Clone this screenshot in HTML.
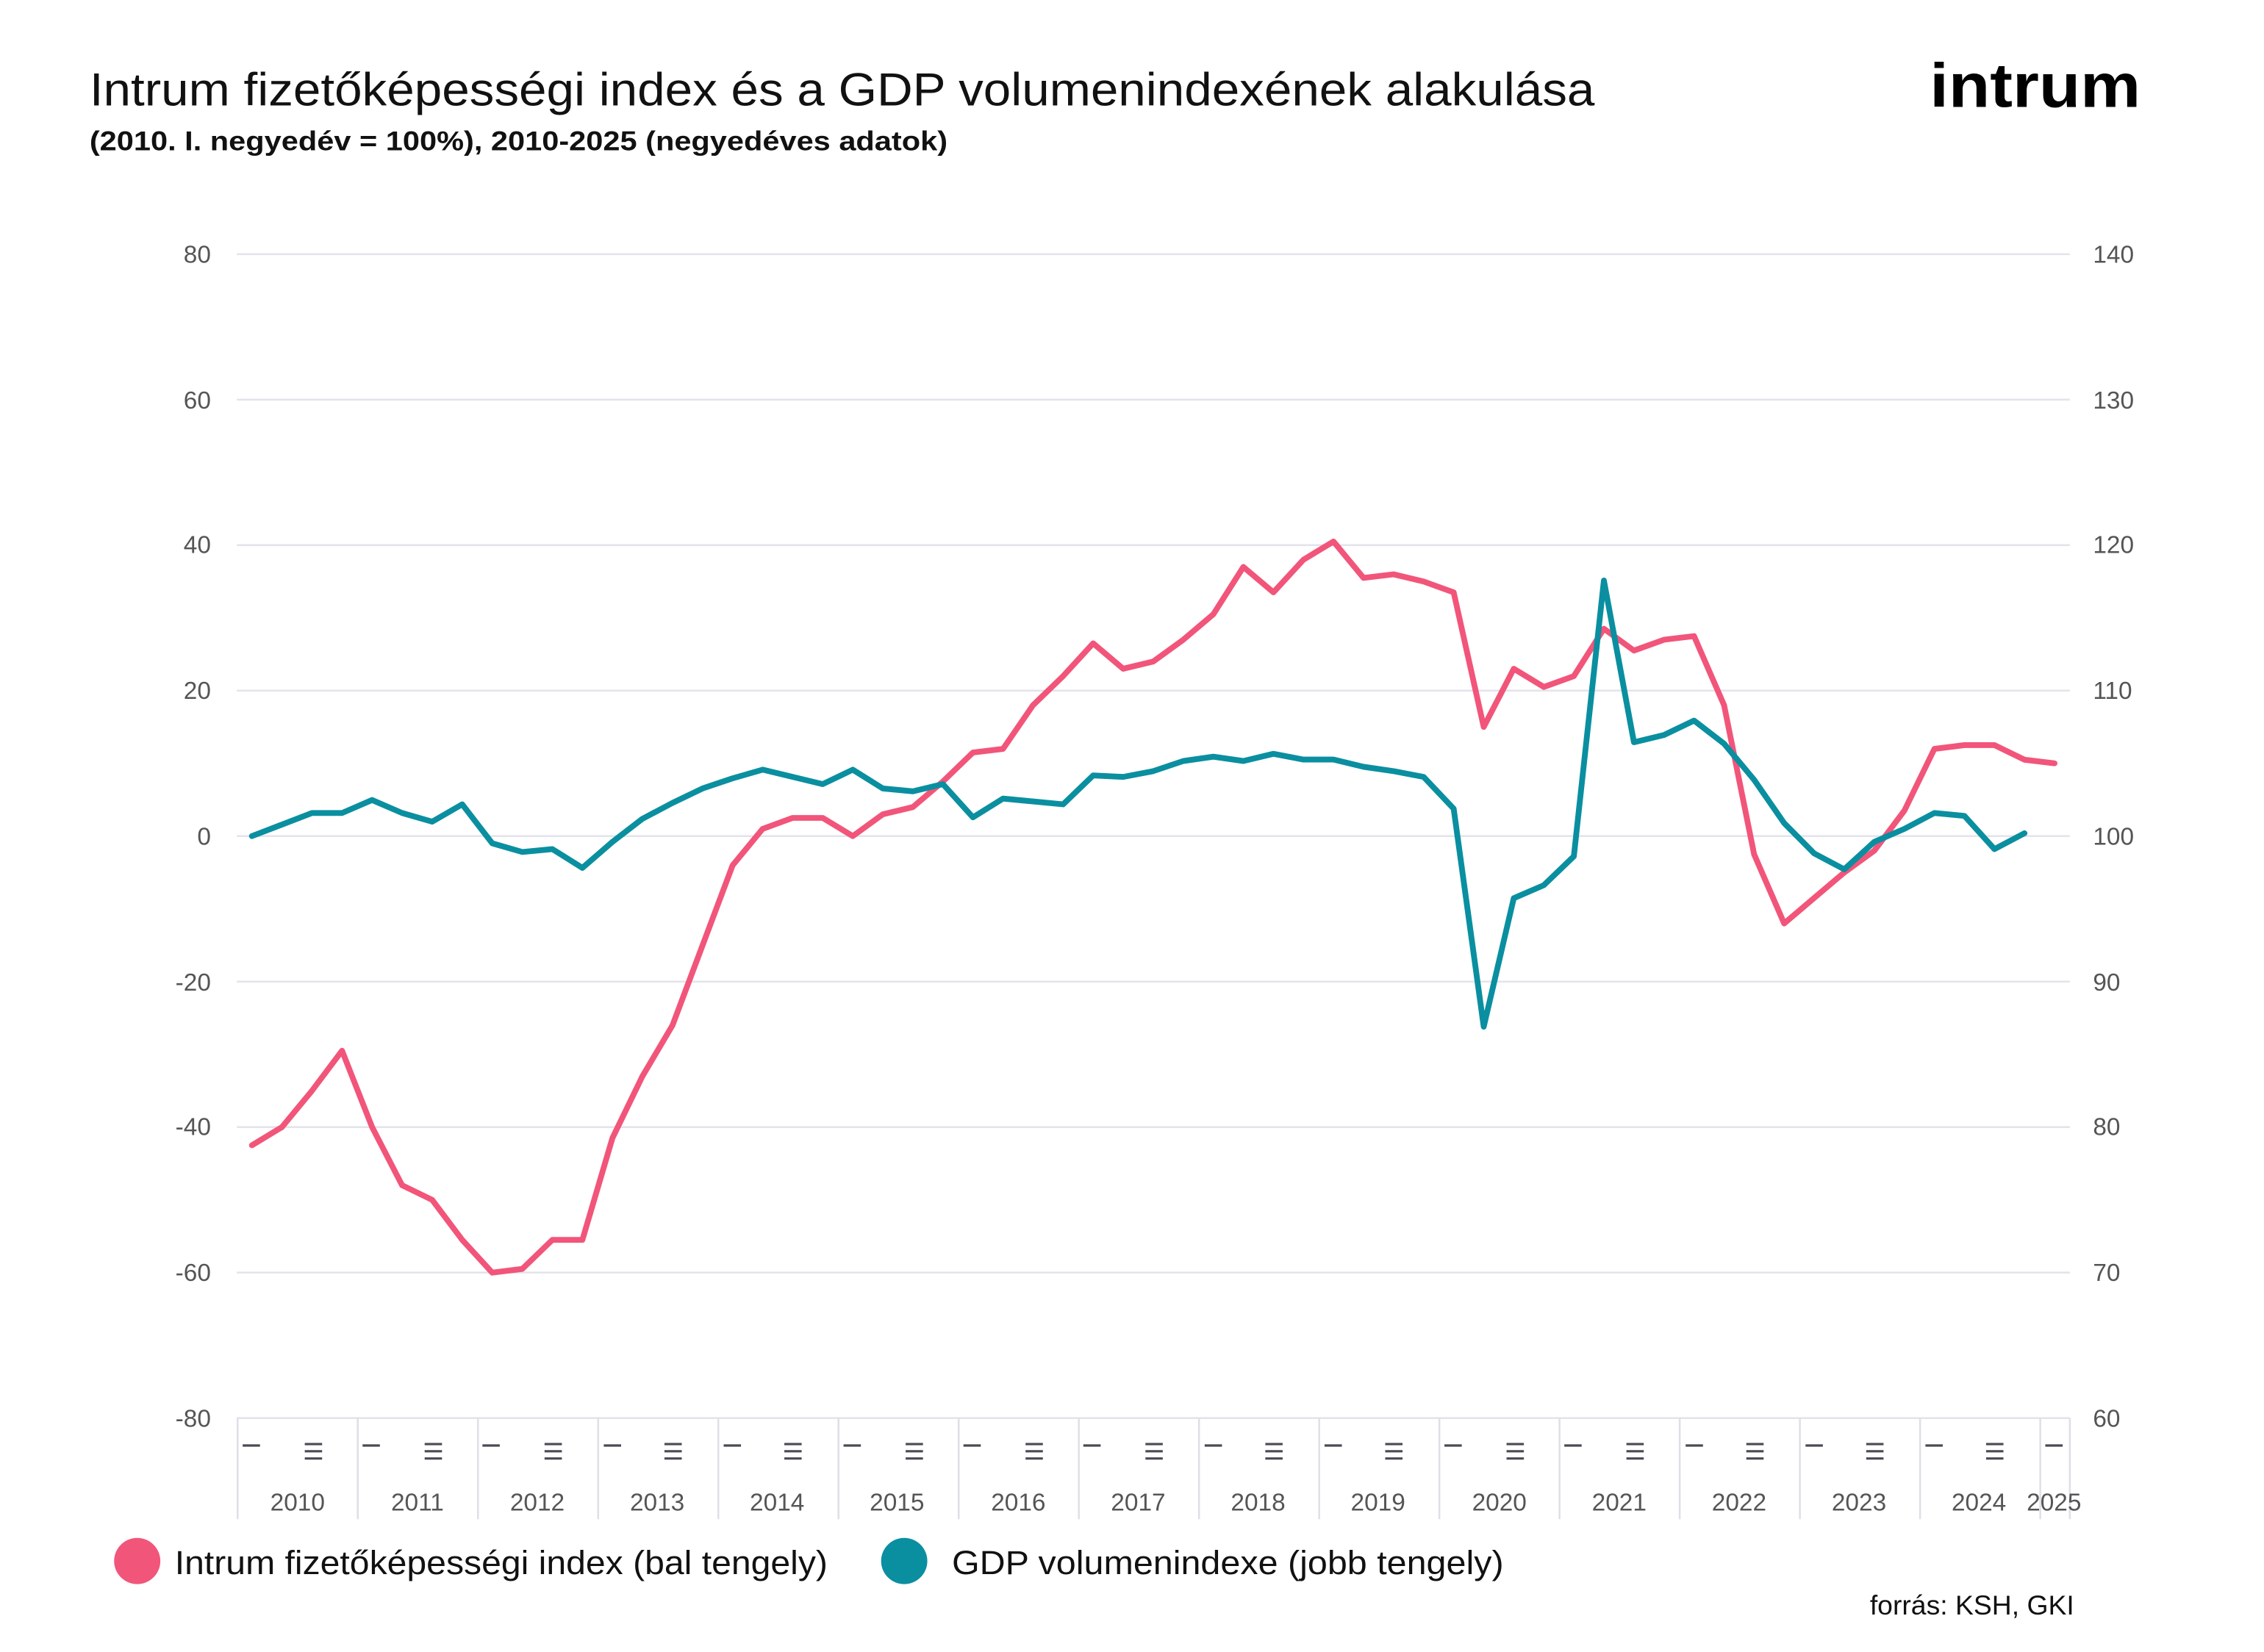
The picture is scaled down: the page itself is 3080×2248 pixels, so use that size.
<!DOCTYPE html>
<html><head><meta charset="utf-8"><style>
html,body{margin:0;padding:0;background:#fff;}
svg{display:block;}
</style></head><body>
<svg width="3080" height="2248" viewBox="0 0 1567.4 1144" preserveAspectRatio="none" xmlns="http://www.w3.org/2000/svg" font-family="Liberation Sans, sans-serif">
<rect width="1567.4" height="1144" fill="#fff"/>
<text x="62" y="73" font-size="32" fill="#111" textLength="1042" lengthAdjust="spacingAndGlyphs">Intrum fizetőképességi index és a GDP volumenindexének alakulása</text>
<text x="62" y="104" font-size="19" font-weight="bold" fill="#111" textLength="594" lengthAdjust="spacingAndGlyphs">(2010. I. negyedév = 100%),  2010-2025 (negyedéves adatok)</text>
<text x="1482" y="74" font-size="43" font-weight="bold" fill="#000" text-anchor="end" textLength="146" lengthAdjust="spacingAndGlyphs">intrum</text>
<g stroke="#e4e3ec" stroke-width="1.3">
<line x1="164" x2="1433" y1="176" y2="176"/><line x1="164" x2="1433" y1="276.75" y2="276.75"/>
<line x1="164" x2="1433" y1="377.5" y2="377.5"/><line x1="164" x2="1433" y1="478.25" y2="478.25"/>
<line x1="164" x2="1433" y1="579" y2="579"/><line x1="164" x2="1433" y1="679.75" y2="679.75"/>
<line x1="164" x2="1433" y1="780.5" y2="780.5"/><line x1="164" x2="1433" y1="881.25" y2="881.25"/>
<line x1="164" x2="1433" y1="982" y2="982"/>
</g>
<g font-size="17" fill="#555" text-anchor="end">
<text x="146" y="182">80</text><text x="146" y="283">60</text><text x="146" y="383">40</text><text x="146" y="484">20</text>
<text x="146" y="585">0</text><text x="146" y="686">-20</text><text x="146" y="786">-40</text><text x="146" y="887">-60</text><text x="146" y="988">-80</text>
</g>
<g font-size="17" fill="#555">
<text x="1449" y="182">140</text><text x="1449" y="283">130</text><text x="1449" y="383">120</text><text x="1449" y="484">110</text>
<text x="1449" y="585">100</text><text x="1449" y="686">90</text><text x="1449" y="786">80</text><text x="1449" y="887">70</text><text x="1449" y="988">60</text>
</g>
<g stroke="#e0dfe8" stroke-width="1.3">
<line x1="164.5" x2="164.5" y1="982" y2="1052"/><line x1="247.7" x2="247.7" y1="982" y2="1052"/><line x1="330.9" x2="330.9" y1="982" y2="1052"/>
<line x1="414.1" x2="414.1" y1="982" y2="1052"/><line x1="497.3" x2="497.3" y1="982" y2="1052"/><line x1="580.5" x2="580.5" y1="982" y2="1052"/>
<line x1="663.7" x2="663.7" y1="982" y2="1052"/><line x1="746.9" x2="746.9" y1="982" y2="1052"/><line x1="830.1" x2="830.1" y1="982" y2="1052"/>
<line x1="913.3" x2="913.3" y1="982" y2="1052"/><line x1="996.5" x2="996.5" y1="982" y2="1052"/><line x1="1079.7" x2="1079.7" y1="982" y2="1052"/>
<line x1="1162.9" x2="1162.9" y1="982" y2="1052"/><line x1="1246.1" x2="1246.1" y1="982" y2="1052"/><line x1="1329.3" x2="1329.3" y1="982" y2="1052"/>
<line x1="1412.5" x2="1412.5" y1="982" y2="1052"/><line x1="1433" x2="1433" y1="982" y2="1052"/>
</g>
<g stroke="#4a4a55" stroke-width="1.6" id="t">
<path d="M168 1001h12M211 1000h12M211 1005h12M211 1010h12"/>
<path d="M251 1001h12M294 1000h12M294 1005h12M294 1010h12"/>
<path d="M334 1001h12M377 1000h12M377 1005h12M377 1010h12"/>
<path d="M418 1001h12M460 1000h12M460 1005h12M460 1010h12"/>
<path d="M501 1001h12M543 1000h12M543 1005h12M543 1010h12"/>
<path d="M584 1001h12M627 1000h12M627 1005h12M627 1010h12"/>
<path d="M667 1001h12M710 1000h12M710 1005h12M710 1010h12"/>
<path d="M750 1001h12M793 1000h12M793 1005h12M793 1010h12"/>
<path d="M834 1001h12M876 1000h12M876 1005h12M876 1010h12"/>
<path d="M917 1001h12M959 1000h12M959 1005h12M959 1010h12"/>
<path d="M1000 1001h12M1043 1000h12M1043 1005h12M1043 1010h12"/>
<path d="M1083 1001h12M1126 1000h12M1126 1005h12M1126 1010h12"/>
<path d="M1167 1001h12M1209 1000h12M1209 1005h12M1209 1010h12"/>
<path d="M1250 1001h12M1292 1000h12M1292 1005h12M1292 1010h12"/>
<path d="M1333 1001h12M1375 1000h12M1375 1005h12M1375 1010h12"/>
<path d="M1416 1001h12"/>
</g>
<g font-size="17" fill="#555" text-anchor="middle">
<text x="206" y="1046">2010</text><text x="289" y="1046">2011</text><text x="372" y="1046">2012</text><text x="455" y="1046">2013</text>
<text x="538" y="1046">2014</text><text x="621" y="1046">2015</text><text x="705" y="1046">2016</text><text x="788" y="1046">2017</text>
<text x="871" y="1046">2018</text><text x="954" y="1046">2019</text><text x="1038" y="1046">2020</text><text x="1121" y="1046">2021</text>
<text x="1204" y="1046">2022</text><text x="1287" y="1046">2023</text><text x="1370" y="1046">2024</text><text x="1422" y="1046">2025</text>
</g>
<polyline fill="none" stroke="#f2557a" stroke-width="4" stroke-linejoin="round" stroke-linecap="round" points="174.4,793.1 195.2,780.5 216,755.3 236.8,727.6 257.6,780.5 278.4,820.8 299.2,830.9 320,858.6 340.8,881.3 361.6,878.7 382.4,858.6 403.2,858.6 424,788.1 444.8,745.2 465.6,710 486.4,654.6 507.2,599.2 528,574 548.8,566.4 569.6,566.4 590.4,579 611.2,563.9 632,558.9 652.8,541.2 673.6,521.1 694.4,518.6 715.2,488.3 736,468.2 756.8,445.5 777.6,463.1 798.4,458.1 819.2,443 840,425.4 860.8,392.6 881.6,410.2 902.4,387.6 923.2,375 944,400.2 964.8,397.7 985.6,402.7 1006.4,410.2 1027.2,503.4 1048,463.1 1068.8,475.7 1089.6,468.2 1110.4,435.4 1131.2,450.5 1152,443 1172.8,440.5 1193.6,488.3 1214.4,591.6 1235.2,639.5 1256,621.8 1276.8,604.2 1297.6,589.1 1318.4,561.4 1339.2,518.6 1360,516 1380.8,516 1401.6,526.1 1422.4,528.6"/>
<polyline fill="none" stroke="#0a8fa0" stroke-width="4" stroke-linejoin="round" stroke-linecap="round" points="174.4,579 195.2,571 216,563 236.8,563 257.6,554 278.4,563 299.2,569 320,557 340.8,584 361.6,590 382.4,588 403.2,601 424,583 444.8,567 465.6,556 486.4,546 507.2,539 528,533 548.8,538 569.6,543 590.4,533 611.2,546 632,548 652.8,543 673.6,566 694.4,553 715.2,555 736,557 756.8,537 777.6,538 798.4,534 819.2,527 840,524 860.8,527 881.6,522 902.4,526 923.2,526 944,531 964.8,534 985.6,538 1006.4,560 1027.2,711 1048,622 1068.8,613 1089.6,593 1110.4,402 1131.2,514 1152,509 1172.8,499 1193.6,515 1214.4,540 1235.2,570 1256,591 1276.8,602 1297.6,583 1318.4,574 1339.2,563 1360,565 1380.8,588 1401.6,577"/>
<circle cx="95" cy="1081" r="16" fill="#f2557a"/>
<text x="121" y="1090" font-size="23" fill="#111" textLength="452" lengthAdjust="spacingAndGlyphs">Intrum fizetőképességi index (bal tengely)</text>
<circle cx="626" cy="1081" r="16" fill="#0a8fa0"/>
<text x="659" y="1090" font-size="23" fill="#111" textLength="382" lengthAdjust="spacingAndGlyphs">GDP volumenindexe (jobb tengely)</text>
<text x="1436" y="1118" font-size="19" fill="#111" text-anchor="end">forrás: KSH, GKI</text>
</svg>
</body></html>
